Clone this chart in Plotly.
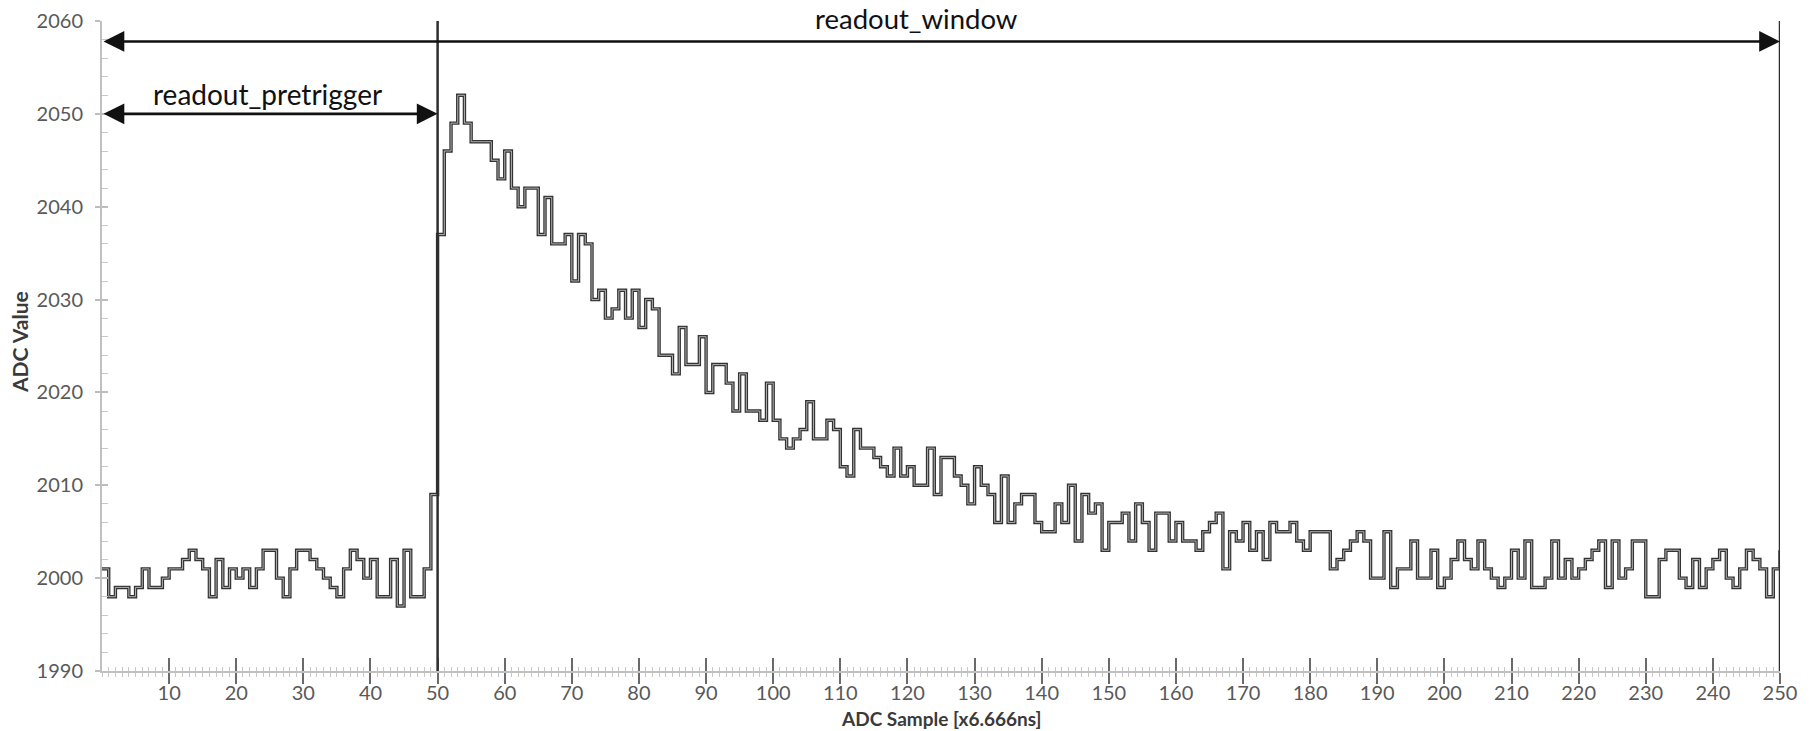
import plotly.graph_objects as go

# ---------------- data ----------------
samples = list(range(0, 251))
adc_values = [
    2001, 1998, 1999, 1999, 1998, 1999, 2001, 1999, 1999, 2000,
    2001, 2001, 2002, 2003, 2002, 2001, 1998, 2002, 1999, 2001,
    2000, 2001, 1999, 2001, 2003, 2003, 2000, 1998, 2001, 2003,
    2003, 2002, 2001, 2000, 1999, 1998, 2001, 2003, 2002, 2000,
    2002, 1998, 1998, 2002, 1997, 2003, 1998, 1998, 2001, 2009,
    2037, 2046, 2049, 2052, 2049, 2047, 2047, 2047, 2045, 2043,
    2046, 2042, 2040, 2042, 2042, 2037, 2041, 2036, 2036, 2037,
    2032, 2037, 2036, 2030, 2031, 2028, 2029, 2031, 2028, 2031,
    2027, 2030, 2029, 2024, 2024, 2022, 2027, 2023, 2023, 2026,
    2020, 2023, 2023, 2021, 2018, 2022, 2018, 2018, 2017, 2021,
    2017, 2015, 2014, 2015, 2016, 2019, 2015, 2015, 2017, 2016,
    2012, 2011, 2016, 2014, 2014, 2013, 2012, 2011, 2014, 2011,
    2012, 2010, 2010, 2014, 2009, 2013, 2013, 2011, 2010, 2008,
    2012, 2010, 2009, 2006, 2011, 2006, 2008, 2009, 2009, 2006,
    2005, 2005, 2008, 2006, 2010, 2004, 2009, 2007, 2008, 2003,
    2006, 2006, 2007, 2004, 2008, 2006, 2003, 2007, 2007, 2004,
    2006, 2004, 2004, 2003, 2005, 2006, 2007, 2001, 2005, 2004,
    2006, 2003, 2005, 2002, 2006, 2005, 2005, 2006, 2004, 2003,
    2005, 2005, 2005, 2001, 2002, 2003, 2004, 2005, 2004, 2000,
    2000, 2005, 1999, 2001, 2001, 2004, 2000, 2000, 2003, 1999,
    2000, 2002, 2004, 2002, 2001, 2004, 2001, 2000, 1999, 2000,
    2003, 2000, 2004, 1999, 1999, 2000, 2004, 2000, 2002, 2000,
    2001, 2002, 2003, 2004, 1999, 2004, 2000, 2001, 2004, 2004,
    1998, 1998, 2002, 2003, 2003, 2000, 1999, 2002, 1999, 2001,
    2002, 2003, 2000, 1999, 2001, 2003, 2002, 2001, 1998, 2001,
    2003,
]
x_tick_values = list(range(10, 251, 10))
y_tick_values = list(range(1990, 2061, 10))
x_range = [0, 250]
y_range = [1990, 2060]

pretrigger_end = 50
window_end = 250
window_arrow_level = 2057.8
pretrigger_arrow_level = 2050
window_label = "readout_window"
window_label_pos = (121.3, 2059.5)
pretrigger_label = "readout_pretrigger"
pretrigger_label_pos = (24.6, 2052.1)
x_title = "ADC Sample [x6.666ns]"
y_title = "ADC Value"

FONT = "Lato"

fig = go.Figure()
fig.add_trace(go.Scatter(
    x=samples, y=adc_values, mode="lines",
    line=dict(shape="hv", color="#333333", width=3.4),
    hoverinfo="skip", showlegend=False))
fig.add_trace(go.Scatter(
    x=samples, y=adc_values, mode="lines",
    line=dict(shape="hv", color="#bdbdbd", width=0.9),
    xaxis="x2", yaxis="y2", hoverinfo="skip", showlegend=False))

# marker lines
for xv in (pretrigger_end, window_end):
    fig.add_shape(type="line", xref="x", yref="y", x0=xv, x1=xv,
                  y0=y_range[0], y1=y_range[1],
                  line=dict(color="#2e2e2e", width=2.5), layer="above")

# double-headed arrows
def double_arrow(x0, x1, y):
    fig.add_annotation(x=x1, y=y, ax=x0, ay=y, xref="x", yref="y",
                       axref="x", ayref="y", text="", showarrow=True,
                       arrowside="end+start", arrowhead=2, startarrowhead=2,
                       arrowsize=1.6, startarrowsize=1.6, arrowwidth=2.6,
                       arrowcolor="#111111", standoff=0, startstandoff=0)

double_arrow(x_range[0], window_end, window_arrow_level)
double_arrow(x_range[0], pretrigger_end, pretrigger_arrow_level)

fig.add_annotation(x=window_label_pos[0], y=window_label_pos[1], xref="x", yref="y",
                   text=window_label, showarrow=False, yshift=7,
                   font=dict(family=FONT, size=27.5, color="#111111"))
fig.add_annotation(x=pretrigger_label_pos[0], y=pretrigger_label_pos[1], xref="x", yref="y",
                   text=pretrigger_label, showarrow=False,
                   font=dict(family=FONT, size=28, color="#111111"))

# axis titles
x_title_font = dict(family=FONT, size=19, color="#3a3a3a", weight=700)
y_title_font = dict(family=FONT, size=21, color="#3a3a3a", weight=700)
fig.add_annotation(x=0.5, y=0, xref="paper", yref="paper", text=x_title,
                   showarrow=False, yshift=-47, xanchor="center", yanchor="middle",
                   font=x_title_font)
fig.add_annotation(x=0, y=0.5, xref="paper", yref="paper", text=y_title,
                   showarrow=False, xshift=-83, yshift=4, textangle=-90,
                   xanchor="center", yanchor="middle", font=y_title_font)

tick_font = dict(family=FONT, size=20, color="#595959")

fig.update_layout(
    width=1810, height=731,
    margin=dict(l=102, r=30, t=21, b=60),
    paper_bgcolor="white", plot_bgcolor="white",
    showlegend=False,
    xaxis=dict(
        range=x_range, tickmode="array", tickvals=x_tick_values,
        automargin=False,
        ticks="outside", ticklen=11, tickwidth=2, tickcolor="#6a6a6a",
        showline=True, linecolor="#c0c0c0", linewidth=2,
        showgrid=False, zeroline=False, tickfont=tick_font,
        ticklabelstandoff=-8,
        minor=dict(tickmode="linear", tick0=0, dtick=1, ticks="outside",
                   ticklen=4, tickwidth=1, tickcolor="#c8c8c8", showgrid=False),
    ),
    xaxis2=dict(
        range=x_range, overlaying="x", anchor="y", side="bottom",
        automargin=False,
        tickmode="array", tickvals=x_tick_values,
        ticks="inside", ticklen=13, tickwidth=2, tickcolor="#6a6a6a",
        showticklabels=False, showline=False, showgrid=False, zeroline=False,
        minor=dict(tickmode="linear", tick0=0, dtick=1, ticks="inside",
                   ticklen=4, tickwidth=1, tickcolor="#c8c8c8", showgrid=False),
    ),
    yaxis=dict(
        range=y_range, tickmode="array", tickvals=y_tick_values,
        automargin=False,
        ticks="outside", ticklen=5, tickwidth=1.5, tickcolor="#bdbdbd",
        showline=True, linecolor="#c0c0c0", linewidth=2,
        showgrid=False, zeroline=False, tickfont=tick_font,
        ticklabelstandoff=8,
    ),
    yaxis2=dict(
        range=y_range, overlaying="y", anchor="x", side="left",
        automargin=False,
        tickmode="array", tickvals=y_tick_values,
        ticks="inside", ticklen=6, tickwidth=1.5, tickcolor="#bdbdbd",
        showticklabels=False, showline=False, showgrid=False, zeroline=False,
        minor=dict(tickmode="linear", tick0=1990, dtick=2, ticks="inside",
                   ticklen=6, tickwidth=1, tickcolor="#c8c8c8", showgrid=False),
    ),
)

fig.write_html("out.html")
